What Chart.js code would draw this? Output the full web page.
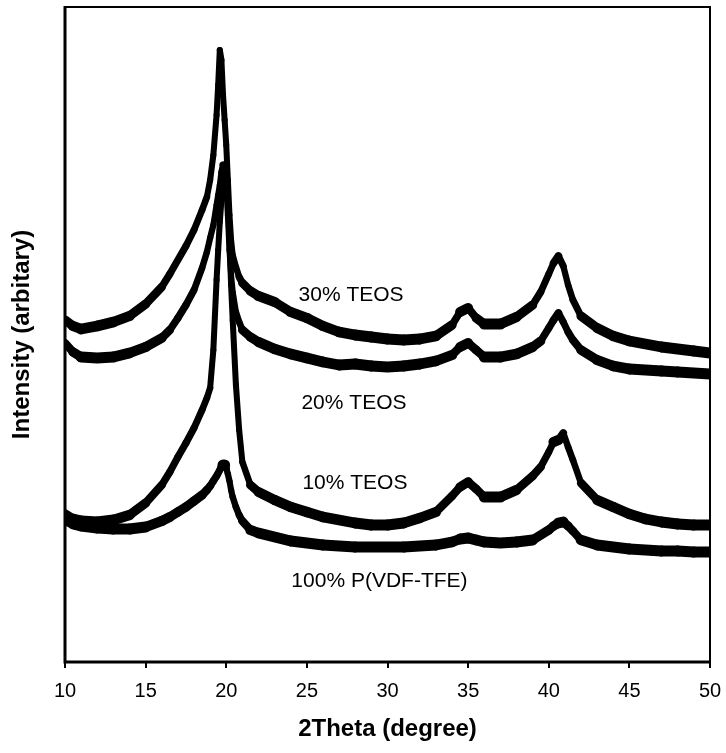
<!DOCTYPE html>
<html>
<head>
<meta charset="utf-8">
<script src="https://cdn.jsdelivr.net/npm/chart.js@4/dist/chart.umd.min.js"></script>
<style>
html, body { margin: 0; padding: 0; background: #ffffff; }
#wrap { width: 726px; height: 753px; position: relative; }
canvas { display: block; }
</style>
</head>
<body>
<div id="wrap"><canvas id="c" width="726" height="753"></canvas></div>
<script>
// ---- data (arbitrary intensity units) ----
const twoTheta = [10, 10.5, 11, 12, 13, 14, 15, 16, 16.5, 17, 17.5, 18, 18.5, 18.8, 19.0, 19.2, 19.4, 19.5, 19.6, 19.7,
  19.8, 19.9, 20.0, 20.1, 20.2, 20.3, 20.4, 20.6, 20.8, 21.0, 21.5, 22, 23, 24, 25, 26, 27, 28, 29, 30,
  31, 32, 33, 34, 34.5, 35, 35.5, 36, 37, 38, 39, 39.5, 40, 40.3, 40.6, 40.9, 41.2, 41.5, 42, 43,
  44, 45, 46, 47, 48, 49, 50];

const teos30 = [342, 336, 333, 336, 340, 346, 358, 375, 388, 402, 416, 432, 452, 465, 482, 507, 547, 577, 612, 602,
  567, 542, 517, 482, 447, 422, 407, 395, 385, 379, 371, 366, 360, 350, 344, 336, 330, 327, 325, 323,
  322, 323, 326, 337, 350, 354, 344, 338, 338, 345, 357, 370, 388, 399, 406, 396, 377, 362, 346, 334,
  326, 321, 318, 315, 313, 311, 309];

const teos20 = [319, 310, 305, 304, 305, 309, 315, 324, 332, 344, 357, 372, 394, 410, 424, 437, 457, 467, 477, 490,
  497, 494, 477, 447, 412, 387, 370, 350, 340, 332, 325, 320, 313, 308, 304, 300, 297, 298, 296, 295,
  296, 298, 301, 307, 315, 319, 312, 305, 305, 308, 315, 321, 334, 342, 349, 340, 330, 322, 312, 302,
  296, 293, 292, 291, 290, 289, 288];

const teos10 = [148, 143, 141, 140, 142, 147, 159, 177, 190, 205, 219, 234, 252, 264, 274, 312, 382, 412, 440, 462,
  477, 484, 480, 462, 422, 377, 342, 277, 232, 200, 177, 170, 162, 155, 150, 145, 142, 139, 137, 137,
  139, 144, 150, 166, 175, 180, 173, 165, 165, 172, 186, 195, 210, 220, 222, 229, 215, 202, 179, 162,
  155, 148, 143, 140, 138, 137, 137];

const pvdfTfe = [142, 138, 136, 134, 133, 133, 135, 141, 145, 150, 155, 161, 167, 172, 176, 181, 186, 189, 192, 195,
  197, 197, 194, 188, 181, 172, 165, 155, 147, 141, 132, 129, 125, 121, 119, 117, 116, 115, 115, 115,
  115, 116, 117, 120, 123, 124, 122, 120, 119, 120, 122, 127, 132, 136, 139, 140, 136, 131, 122, 117,
  115, 113, 112, 111, 111, 110, 110];

const seriesNames = ['30% TEOS', '20% TEOS', '10% TEOS', '100% P(VDF-TFE)'];
const seriesValues = [teos30, teos20, teos10, pvdfTfe];
const xTickStep = 5;
const xMin = 10, xMax = 50;
const yMin = 0, yMax = 655;

// ---- styling / annotation placement ----
const FAMILY = "'Liberation Sans', Arial, Helvetica, sans-serif";
const curveLabelAnchors = [
  { text: '30% TEOS', x: 27.74, y: 367 },
  { text: '20% TEOS', x: 27.92, y: 259 },
  { text: '10% TEOS', x: 27.98, y: 179 },
  { text: '100% P(VDF-TFE)', x: 29.5, y: 81 }
];

function segWidth(ctx) {
  const dx = ctx.p1.x - ctx.p0.x, dy = ctx.p1.y - ctx.p0.y;
  const len = Math.hypot(dx, dy) || 1;
  const c = dx / len;
  return 6 + 5 * c * c;
}

const framePlugin = {
  id: 'frame',
  afterDatasetsDraw(chart) {
    const { ctx, chartArea: a } = chart;
    ctx.save();
    ctx.strokeStyle = '#000';
    ctx.lineWidth = 2;
    ctx.beginPath();
    ctx.moveTo(a.left, a.top); ctx.lineTo(a.right, a.top); ctx.lineTo(a.right, a.bottom);
    ctx.stroke();
    ctx.lineWidth = 3;
    ctx.beginPath();
    ctx.moveTo(a.left, a.top - 1); ctx.lineTo(a.left, a.bottom); ctx.lineTo(a.right + 1, a.bottom);
    ctx.stroke();
    ctx.restore();
  }
};

const labelPlugin = {
  id: 'curveLabels',
  afterDatasetsDraw(chart) {
    const { ctx } = chart;
    const xs = chart.scales.x, ys = chart.scales.y;
    ctx.save();
    ctx.fillStyle = '#000';
    ctx.font = '21px ' + FAMILY;
    ctx.textAlign = 'center';
    ctx.textBaseline = 'middle';
    curveLabelAnchors.forEach(l => {
      ctx.fillText(l.text, xs.getPixelForValue(l.x), ys.getPixelForValue(l.y));
    });
    ctx.restore();
  }
};

const datasets = seriesNames.map((name, k) => ({
  label: name,
  data: twoTheta.map((x, i) => ({ x: x, y: seriesValues[k][i] })),
  borderColor: '#000',
  backgroundColor: '#000',
  borderWidth: 8,
  borderCapStyle: 'round',
  borderJoinStyle: 'round',
  pointRadius: 0,
  tension: 0,
  fill: false,
  clip: 0,
  segment: { borderWidth: segWidth }
}));

new Chart(document.getElementById('c'), {
  type: 'line',
  data: { datasets },
  options: {
    responsive: false,
    animation: false,
    devicePixelRatio: 1,
    layout: { padding: { top: 7, right: 16, left: 0, bottom: 0 } },
    plugins: { legend: { display: false }, tooltip: { enabled: false } },
    scales: {
      x: {
        type: 'linear', min: xMin, max: xMax,
        ticks: { stepSize: xTickStep, color: '#000', font: { family: FAMILY, size: 20 }, padding: 11, maxRotation: 0 },
        grid: { drawOnChartArea: false, drawTicks: true, tickLength: 6, color: '#000', lineWidth: 2, tickWidth: 2 },
        border: { display: false },
        title: { display: true, text: '2Theta (degree)', color: '#000', font: { family: FAMILY, size: 24, weight: 'bold' }, padding: { top: 0, bottom: 9 } },
        afterFit(s) { s.height = 91; s.paddingLeft = 0; s.paddingRight = 0; }
      },
      y: {
        type: 'linear', min: yMin, max: yMax,
        ticks: { display: false },
        grid: { display: false, drawTicks: false },
        border: { display: false },
        title: { display: true, text: 'Intensity (arbitary)', color: '#000', font: { family: FAMILY, size: 24, weight: 'bold' }, padding: { top: 8, bottom: 0 } },
        afterFit(s) { s.width = 65; s.paddingTop = 0; s.paddingBottom = 0; }
      }
    }
  },
  plugins: [framePlugin, labelPlugin]
});
</script>
</body>
</html>
